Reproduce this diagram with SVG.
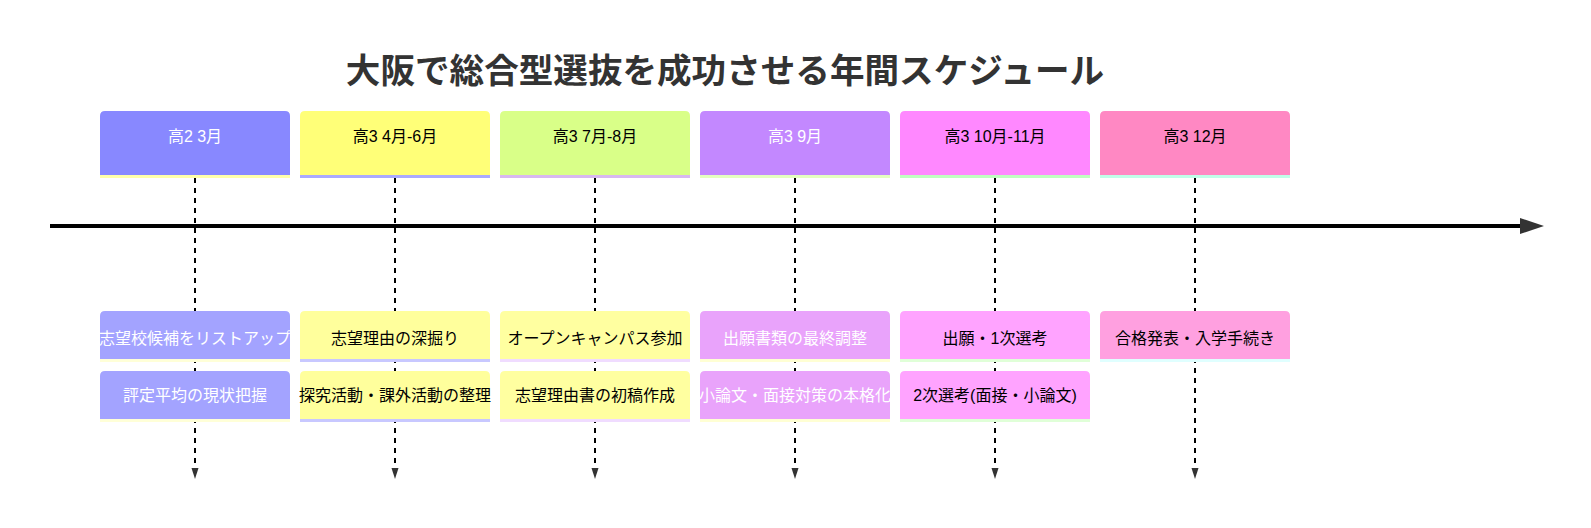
<svg xmlns="http://www.w3.org/2000/svg" width="1591" height="528" viewBox="0 0 1591 528">
<defs>
<style>
text{font-family:"Liberation Sans","Noto Sans CJK JP",sans-serif;font-size:16px;text-anchor:middle;}
.title{font-size:34.6px;font-weight:bold;fill:#333;}
.w{fill:#ffffff;}
.b{fill:#000000;}
.vline{stroke:#000;stroke-width:2;stroke-dasharray:5,5;fill:none;}
.axis{stroke:#000;stroke-width:4;fill:none;}
.head{fill:#333;}
</style>
</defs>
<rect width="1591" height="528" fill="#fff"/>
<text class="title" x="725" y="83">大阪で総合型選抜を成功させる年間スケジュール</text>
<g id="connectors">
<line class="axis" x1="50" y1="226" x2="1522" y2="226"/>
<path class="head" d="M1520,218 L1544,226 L1520,234 Z"/>
<path class="vline" d="M195,178 V468"/>
<path class="vline" d="M395,178 V468"/>
<path class="vline" d="M595,178 V468"/>
<path class="vline" d="M795,178 V468"/>
<path class="vline" d="M995,178 V468"/>
<path class="vline" d="M1195,178 V468"/>
<path class="head" d="M191.5,468 L198.5,468 L195,479 Z"/>
<path class="head" d="M391.5,468 L398.5,468 L395,479 Z"/>
<path class="head" d="M591.5,468 L598.5,468 L595,479 Z"/>
<path class="head" d="M791.5,468 L798.5,468 L795,479 Z"/>
<path class="head" d="M991.5,468 L998.5,468 L995,479 Z"/>
<path class="head" d="M1191.5,468 L1198.5,468 L1195,479 Z"/>
</g>
<g id="section0">
<path d="M100,175 V116 Q100,111 105,111 H285 Q290,111 290,116 V175 Z" fill="#8888ff"/>
<rect x="100" y="175" width="190" height="3" fill="#ffffaa"/>
<text class="w" x="195" y="142">高2 3月</text>
</g>
<g id="section1">
<path d="M300,175 V116 Q300,111 305,111 H485 Q490,111 490,116 V175 Z" fill="#ffff78"/>
<rect x="300" y="175" width="190" height="3" fill="#aaaaff"/>
<text class="b" x="395" y="142">高3 4月-6月</text>
</g>
<g id="section2">
<path d="M500,175 V116 Q500,111 505,111 H685 Q690,111 690,116 V175 Z" fill="#d9ff88"/>
<rect x="500" y="175" width="190" height="3" fill="#d8b8f0"/>
<text class="b" x="595" y="142">高3 7月-8月</text>
</g>
<g id="section3">
<path d="M700,175 V116 Q700,111 705,111 H885 Q890,111 890,116 V175 Z" fill="#c388ff"/>
<rect x="700" y="175" width="190" height="3" fill="#e4ffc0"/>
<text class="w" x="795" y="142">高3 9月</text>
</g>
<g id="section4">
<path d="M900,175 V116 Q900,111 905,111 H1085 Q1090,111 1090,116 V175 Z" fill="#ff88ff"/>
<rect x="900" y="175" width="190" height="3" fill="#c0ffc0"/>
<text class="b" x="995" y="142">高3 10月-11月</text>
</g>
<g id="section5">
<path d="M1100,175 V116 Q1100,111 1105,111 H1285 Q1290,111 1290,116 V175 Z" fill="#ff88c3"/>
<rect x="1100" y="175" width="190" height="3" fill="#c0ffe8"/>
<text class="b" x="1195" y="142">高3 12月</text>
</g>
<g id="task0a">
<path d="M100,359 V316 Q100,311 105,311 H285 Q290,311 290,316 V359 Z" fill="#a3a3ff"/>
<rect x="100" y="359" width="190" height="3" fill="#ffffd8"/>
<text class="w" x="195" y="344">志望校候補をリストアップ</text>
</g>
<g id="task0b">
<path d="M100,419 V376 Q100,371 105,371 H285 Q290,371 290,376 V419 Z" fill="#a3a3ff"/>
<rect x="100" y="419" width="190" height="3" fill="#ffffd8"/>
<text class="w" x="195" y="401">評定平均の現状把握</text>
</g>
<g id="task1a">
<path d="M300,359 V316 Q300,311 305,311 H485 Q490,311 490,316 V359 Z" fill="#ffff9c"/>
<rect x="300" y="359" width="190" height="3" fill="#c8c8ff"/>
<text class="b" x="395" y="344">志望理由の深掘り</text>
</g>
<g id="task1b">
<path d="M300,419 V376 Q300,371 305,371 H485 Q490,371 490,376 V419 Z" fill="#ffff9c"/>
<rect x="300" y="419" width="190" height="3" fill="#c8c8ff"/>
<text class="b" x="395" y="401">探究活動・課外活動の整理</text>
</g>
<g id="task2a">
<path d="M500,359 V316 Q500,311 505,311 H685 Q690,311 690,316 V359 Z" fill="#ffffa0"/>
<rect x="500" y="359" width="190" height="3" fill="#f0dcff"/>
<text class="b" x="595" y="344">オープンキャンパス参加</text>
</g>
<g id="task2b">
<path d="M500,419 V376 Q500,371 505,371 H685 Q690,371 690,376 V419 Z" fill="#ffffa0"/>
<rect x="500" y="419" width="190" height="3" fill="#f0dcff"/>
<text class="b" x="595" y="401">志望理由書の初稿作成</text>
</g>
<g id="task3a">
<path d="M700,359 V316 Q700,311 705,311 H885 Q890,311 890,316 V359 Z" fill="#e9a3fb"/>
<rect x="700" y="359" width="190" height="3" fill="#ffffd4"/>
<text class="w" x="795" y="344">出願書類の最終調整</text>
</g>
<g id="task3b">
<path d="M700,419 V376 Q700,371 705,371 H885 Q890,371 890,376 V419 Z" fill="#e9a3fb"/>
<rect x="700" y="419" width="190" height="3" fill="#ffffd4"/>
<text class="w" x="795" y="401">小論文・面接対策の本格化</text>
</g>
<g id="task4a">
<path d="M900,359 V316 Q900,311 905,311 H1085 Q1090,311 1090,316 V359 Z" fill="#ffa3ff"/>
<rect x="900" y="359" width="190" height="3" fill="#e0ffd8"/>
<text class="b" x="995" y="344">出願・1次選考</text>
</g>
<g id="task4b">
<path d="M900,419 V376 Q900,371 905,371 H1085 Q1090,371 1090,376 V419 Z" fill="#ffa3ff"/>
<rect x="900" y="419" width="190" height="3" fill="#e0ffd8"/>
<text class="b" x="995" y="401">2次選考(面接・小論文)</text>
</g>
<g id="task5a">
<path d="M1100,359 V316 Q1100,311 1105,311 H1285 Q1290,311 1290,316 V359 Z" fill="#ffa0e0"/>
<rect x="1100" y="359" width="190" height="3" fill="#e0ffff"/>
<text class="b" x="1195" y="344">合格発表・入学手続き</text>
</g>
</svg>
